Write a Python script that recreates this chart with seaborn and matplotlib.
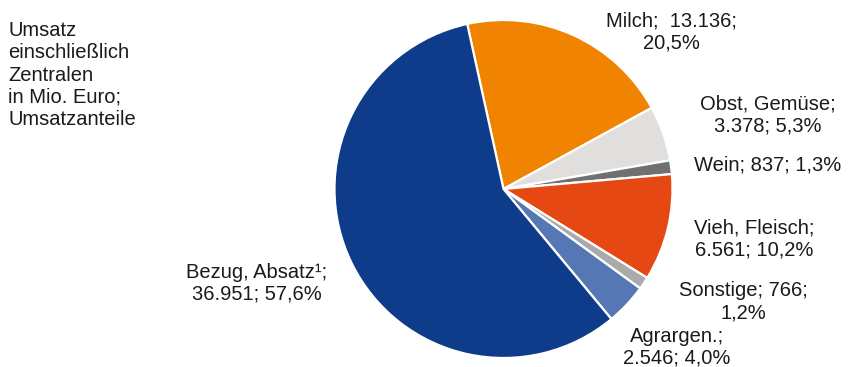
import matplotlib
matplotlib.use("Agg")
import matplotlib.pyplot as plt
import seaborn as sns

# Sales by segment (Mio. Euro), clockwise from "Milch"
categories = ["Milch", "Obst, Gemüse", "Wein", "Vieh, Fleisch", "Sonstige", "Agrargen.", "Bezug, Absatz\u00b9"]
values = [13136, 3378, 837, 6561, 766, 2546, 36951]
shares = [20.5, 5.3, 1.3, 10.2, 1.2, 4.0, 57.6]
colors = ["#f08300", "#e0dfdd", "#707070", "#e54813", "#aaaaaa", "#5578b4", "#0f3c8a"]

label_texts = [
    "Milch;  13.136;\n20,5%",
    "Obst, Gemüse;\n3.378; 5,3%",
    "Wein; 837; 1,3%",
    "Vieh, Fleisch;\n6.561; 10,2%",
    "Sonstige; 766;\n1,2%",
    "Agrargen.;\n2.546; 4,0%",
    "Bezug, Absatz\u00b9;\n36.951; 57,6%",
]
# label centres in figure pixels (x, y from top)
label_pos = [(671, 32), (768, 115), (768, 165), (754, 239), (743, 302), (677, 347), (257, 283)]

title = "Umsatz\neinschließlich\nZentralen\nin Mio. Euro;\nUmsatzanteile"

sns.set_theme(style="white")
plt.rcParams["font.family"] = ["Liberation Sans", "DejaVu Sans"]

W, H, DPI = 848, 367, 100
fig = plt.figure(figsize=(W / DPI, H / DPI), dpi=DPI)
ax = fig.add_axes([0, 0, 1, 1])

cx, cy, r = 503.5, 189.0, 169.0
ax.pie(values, colors=colors, startangle=102.4, counterclock=False,
       radius=1.0, center=(0, 0),
       wedgeprops=dict(edgecolor="white", linewidth=1.6))
ax.set_xlim(-cx / r, (W - cx) / r)
ax.set_ylim(-(H - cy) / r, cy / r)
ax.set_aspect("equal")
ax.axis("off")

FS = 14.5
for txt, (px, py) in zip(label_texts, label_pos):
    ax.annotate(txt, xy=(px, H - py), xycoords="figure pixels",
                ha="center", va="center", fontsize=FS, color="#1a1a1a",
                linespacing=1.2)

ax.annotate(title, xy=(8, H - 21), xycoords="figure pixels",
            ha="left", va="top", fontsize=FS, color="#1a1a1a", linespacing=1.22)

fig.savefig("out.png", dpi=DPI, facecolor="white")
